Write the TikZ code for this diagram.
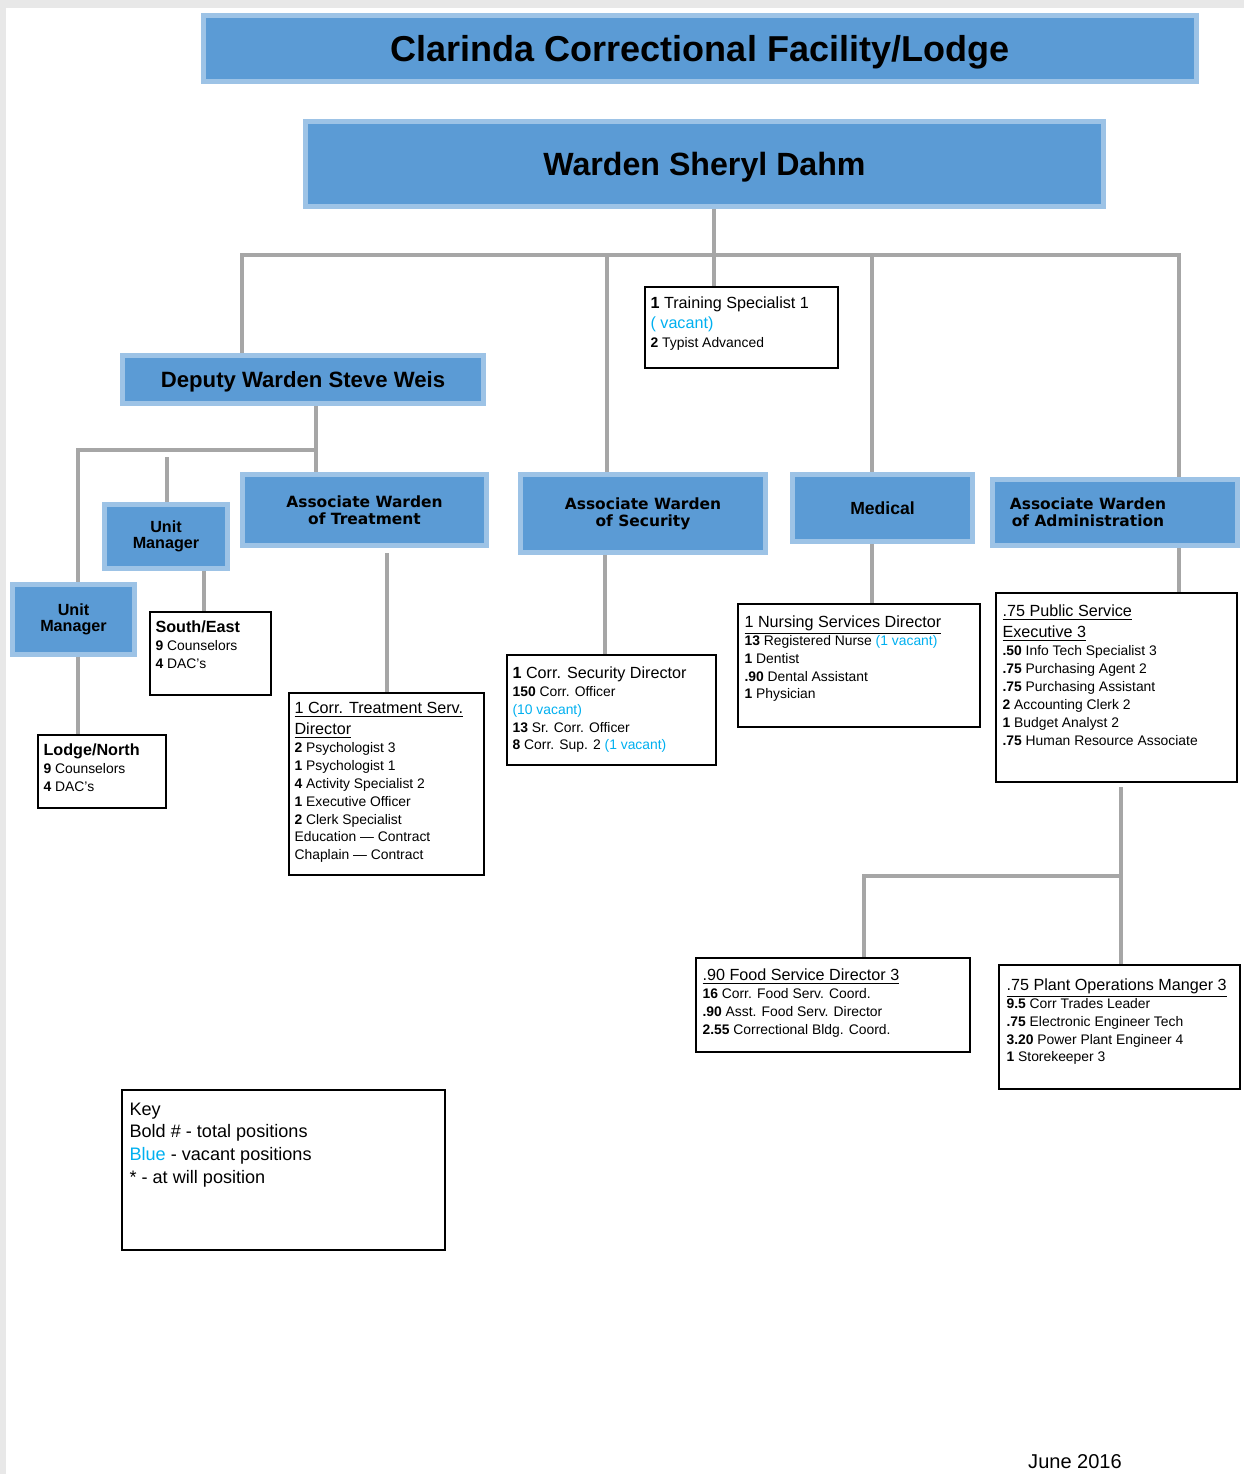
\documentclass[tikz,border=0pt]{standalone}
\usepackage{fontspec}
\setmainfont{Liberation Sans}
\newfontfamily\awfont{DejaVu Sans}
\usepackage{tikz}
\usetikzlibrary{positioning}
\usetikzlibrary{calc}

\definecolor{boxblue}{RGB}{91,155,213}
\definecolor{edgeblue}{RGB}{157,195,230}
\definecolor{linegray}{RGB}{166,166,166}
\definecolor{vacblue}{RGB}{0,176,240}

\newcommand{\vac}[1]{\textcolor{vacblue}{#1}}
\newcommand{\cnt}[1]{\textbf{#1}}
\newcommand{\hdfont}{\fontsize{9.2}{11.3}\selectfont}
\newcommand{\hd}[1]{{\hdfont\underline{#1}}}

\tikzset{
  boxsize/.style 2 args={minimum width=#1*0.02cm, minimum height=#2*0.02cm},
  bluebox/.style={draw=edgeblue, line width=2.8pt, fill=boxblue, inner sep=0pt, align=center},
  infobox/.style={draw=black, line width=0.9pt, fill=white, inner sep=0pt},
  infotext/.style={anchor=north west, inner sep=0pt, align=left, font=\fontsize{7.9}{10.2}\selectfont},
  conn/.style={draw=linegray, line width=2.8pt},
  awtext/.style={font=\awfont\bfseries\fontsize{8.8}{9.6}\selectfont},
  umtext/.style={font=\bfseries\fontsize{9.2}{9}\selectfont}
}

\begin{document}
\begin{tikzpicture}[x=0.02cm, y=-0.02cm]
\useasboundingbox (0,0) rectangle (1244,1474);
\fill[gray!18] (0,0) rectangle (1244,8);
\fill[gray!18] (0,0) rectangle (6,1474);

% blue boxes
\node[bluebox, boxsize={993}{66}, text depth=0pt, font=\bfseries\fontsize{20.5}{24}\selectfont] (title) at (700,48.5) {Clarinda Correctional Facility/Lodge};
\node[bluebox, boxsize={798}{85}, text depth=0pt, font=\bfseries\fontsize{18.3}{22}\selectfont] (warden) at (704.5,164) {Warden Sheryl Dahm};
\node[bluebox, boxsize={361}{48}, text depth=0pt, font=\bfseries\fontsize{12.6}{15}\selectfont] (deputy) at (303,379.5) {Deputy Warden Steve Weis};
\node[bluebox, boxsize={244}{71}, awtext] (awtrt) at (364.5,510) {Associate Warden\\of Treatment};
\node[bluebox, boxsize={123}{64}, umtext] (um2) at (166,536.5) {Unit\\Manager};
\node[bluebox, boxsize={122}{70}, umtext] (um1) at (73.5,619.5) {Unit\\Manager};
\node[bluebox, boxsize={245}{78}, awtext] (awsec) at (643,513.5) {Associate Warden\\of Security};
\node[bluebox, boxsize={180}{67}, font=\bfseries\fontsize{10}{12}\selectfont] (medical) at (882.5,508) {Medical};
\node[bluebox, boxsize={245}{66}, label={[awtext, align=center, xshift=-0.54cm]center:{Associate Warden\\of Administration}}] (awadm) at (1115,512.5) {};

% white boxes
\node[infobox, boxsize={193}{81}] (train) at (741.5,327.5) {};
\node[infobox, boxsize={121}{83}] (southeast) at (210.5,653.5) {};
\node[infobox, boxsize={128}{73}] (lodge) at (102,771.5) {};
\node[infobox, boxsize={195}{182}] (trt) at (386.5,784) {};
\node[infobox, boxsize={209}{110}] (sec) at (611.5,710) {};
\node[infobox, boxsize={242}{123}] (nurse) at (859,665.5) {};
\node[infobox, boxsize={241}{189}] (adm) at (1116.5,687.5) {};
\node[infobox, boxsize={274}{94}] (food) at (833,1005) {};
\node[infobox, boxsize={241}{124}] (plant) at (1119.5,1027) {};
\node[infobox, boxsize={323}{160}] (key) at (283.5,1170) {};

\node[infotext, font=\hdfont] (traintxt) at ($(train.north west)+(6,10)$) {\cnt{1} Training Specialist 1\\\vac{( vacant)}\\{\fontsize{7.9}{10}\selectfont\cnt{2} Typist Advanced}};
\node[infotext] (setxt) at ($(southeast.north west)+(6,9)$) {{\hdfont\bfseries South/East}\\\cnt{9} Counselors\\\cnt{4} DAC's};
\node[infotext] (lodgetxt) at ($(lodge.north west)+(6,9)$) {{\hdfont\bfseries Lodge/North}\\\cnt{9} Counselors\\\cnt{4} DAC's};
\node[infotext] (trttxt) at ($(trt.north west)+(6,10)$) {\hd{1 Corr. Treatment Serv.}\\[1.5pt]\hd{Director}\\\cnt{2} Psychologist 3\\\cnt{1} Psychologist 1\\\cnt{4} Activity Specialist 2\\\cnt{1} Executive Officer\\\cnt{2} Clerk Specialist\\Education --- Contract\\Chaplain --- Contract};
\node[infotext] (sectxt) at ($(sec.north west)+(6,12)$) {{\hdfont\cnt{1} Corr. Security Director}\\\cnt{150} Corr. Officer\\\vac{(10 vacant)}\\\cnt{13} Sr. Corr. Officer\\\cnt{8} Corr. Sup. 2 \vac{(1 vacant)}};
\node[infotext] (nursetxt) at ($(nurse.north west)+(7,12)$) {\hd{1 Nursing Services Director}\\\cnt{13} Registered Nurse \vac{(1 vacant)}\\\cnt{1} Dentist\\\cnt{.90} Dental Assistant\\\cnt{1} Physician};
\node[infotext] (admtxt) at ($(adm.north west)+(7,12)$) {\hd{.75 Public Service}\\[2pt]\hd{Executive 3}\\\cnt{.50} Info Tech Specialist 3\\\cnt{.75} Purchasing Agent 2\\\cnt{.75} Purchasing Assistant\\\cnt{2} Accounting Clerk 2\\\cnt{1} Budget Analyst 2\\\cnt{.75} Human Resource Associate};
\node[infotext] (foodtxt) at ($(food.north west)+(7,11)$) {\hd{.90 Food Service Director 3}\\\cnt{16} Corr. Food Serv. Coord.\\\cnt{.90} Asst. Food Serv. Director\\\cnt{2.55} Correctional Bldg. Coord.};
\node[infotext] (planttxt) at ($(plant.north west)+(8,14)$) {\hd{.75 Plant Operations Manger 3}\\\cnt{9.5} Corr Trades Leader\\\cnt{.75} Electronic Engineer Tech\\\cnt{3.20} Power Plant Engineer 4\\\cnt{1} Storekeeper 3};
\node[infotext, font=\fontsize{10.3}{13}\selectfont] (keytxt) at ($(key.north west)+(8,13)$) {Key\\Bold \# - total positions\\\vac{Blue} - vacant positions\\* - at will position};

\node[font=\fontsize{11.4}{13}\selectfont] (date) at (1075,1462) {June 2016};

% connectors
\coordinate (b1) at (242,255);
\coordinate (b2) at (607,255);
\coordinate (b3) at (714,255);
\coordinate (b4) at (872,255);
\coordinate (b5) at (1179,255);
\draw[conn] (b1 |- deputy.north) -- (b1) -- (b5) -- (b5 |- awadm.north);
\draw[conn] (b3 |- warden.south) -- (b3 |- train.north);
\draw[conn] (b2) -- (b2 |- awsec.north);
\draw[conn] (b4) -- (b4 |- medical.north);

\coordinate (d0) at (78,450);
\coordinate (d1) at (316,450);
\coordinate (d2) at (167,457);
\draw[conn] (d1 |- deputy.south) -- (d1 |- awtrt.north);
\draw[conn] (d1) -- (d0) -- (d0 |- um1.north);
\draw[conn] (d2) -- (d2 |- um2.north);
\coordinate (s1) at (204,575);
\draw[conn] (s1 |- um2.south) -- (s1 |- southeast.north);
\draw[conn] (d0 |- um1.south) -- (d0 |- lodge.north);
\coordinate (t1) at (387,553);
\draw[conn] (t1) -- (t1 |- trt.north);
\coordinate (c1) at (605,558);
\draw[conn] (c1 |- awsec.south) -- (c1 |- sec.north);
\draw[conn] (b4 |- medical.south) -- (b4 |- nurse.north);
\draw[conn] (b5 |- awadm.south) -- (b5 |- adm.north);

\coordinate (a1) at (1121,787);
\coordinate (a2) at (1121,876);
\coordinate (a3) at (864,876);
\draw[conn] (a1) -- (a1 |- plant.north);
\draw[conn] (a2) -- (a3) -- (a3 |- food.north);
\end{tikzpicture}
\end{document}
